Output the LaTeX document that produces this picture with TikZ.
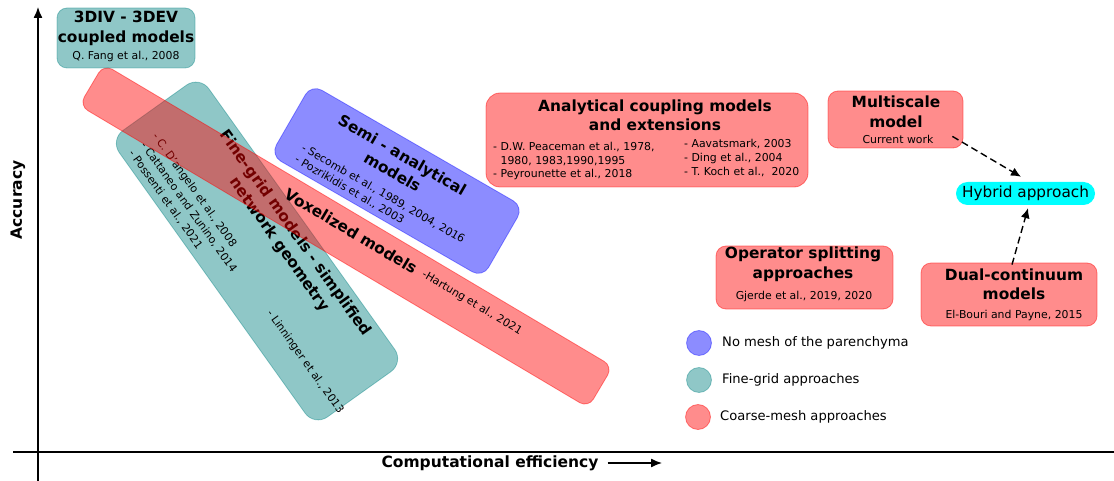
\documentclass[tikz,border=0pt]{standalone}
\usepackage{fontspec}
\setmainfont{DejaVu Sans}
\usepackage{tikz}
\usetikzlibrary{arrows.meta, positioning}

\definecolor{hybcyan}{RGB}{0,255,255}
\newcommand\boxtitle{\fontsize{15.4}{19.5}\selectfont\bfseries}
\newcommand\reftext{\fontsize{10.9}{13.5}\selectfont}

\begin{document}
\begin{tikzpicture}[
    x=1pt, y=-1pt,
    coarse/.style={rectangle, rounded corners=10pt, fill=red, fill opacity=0.45,
      draw=red, draw opacity=0.45, line width=0.8pt, text opacity=1, inner sep=0pt},
    finegrid/.style={rectangle, rounded corners=10pt, fill=teal, fill opacity=0.44,
      draw=teal, draw opacity=0.4, line width=0.8pt, text opacity=1, inner sep=0pt},
    nomesh/.style={rectangle, rounded corners=10pt, fill=blue, fill opacity=0.45,
      draw=blue, draw opacity=0.4, line width=0.8pt, text opacity=1, inner sep=0pt},
    ttl/.style={font=\boxtitle, align=center, inner sep=0pt},
    refs/.style={font=\reftext, align=left, inner sep=0pt},
    axisline/.style={line width=1.3pt},
    axlabel/.style={font=\fontsize{15.5}{18}\selectfont\bfseries, inner sep=0pt},
    tip/.style={-{Latex[length=11pt,width=9pt]}},
    toward/.style={-{Latex[length=10pt,width=9pt]}, line width=1.4pt, dash pattern=on 7pt off 4pt},
    legdot/.style={circle, minimum size=25pt},
    legtext/.style={font=\fontsize{13.1}{15}\selectfont, anchor=west, inner sep=0pt}
  ]
  \useasboundingbox (0,0) rectangle (1114,481);

  % axes
  \coordinate (ybot) at (38,481);
  \coordinate (ytop) at (38,7);
  \coordinate (xleft) at (13,452);
  \coordinate (xright) at (1114,452);
  \draw[axisline, tip] (ybot) -- (ytop);
  \draw[axisline] (xleft) -- (xright);
  \node[axlabel, rotate=90] (acc) at (18,200) {Accuracy};
  \node[axlabel] (eff) at (490,463) {Computational efficiency};
  \coordinate (effend) at (662,463);
  \draw[axisline, tip] ([xshift=9pt]eff.east) -- (effend);

  % fine-grid, network geometry
  \node[finegrid, minimum width=352pt, minimum height=110pt, rounded corners=16pt, rotate=-54.5] (fine) at (257,251) {};
  \node[ttl, rotate=-54.5] (fineT) at (287,239) {Fine-grid models - simplified\\network geometry};
  \node[refs, rotate=-54.5, anchor=west, font=\fontsize{10.9}{14.5}\selectfont] (fineR) at (143,143)
    {- C. D'angelo et al., 2008\\- Cattaneo and Zunino, 2014\\- Possenti et al., 2021};
  \node[refs, rotate=-54.5] (fineL) at (305,362) {- Linninger et al., 2013};

  % semi-analytical
  \node[nomesh, minimum width=245pt, minimum height=82pt, rounded corners=12pt, rotate=-30] (semi) at (397,181) {};
  \node[ttl, rotate=-30] (semiT) at (397.5,163.5) {Semi - analytical\\models};
  \node[refs, rotate=-30, anchor=west] (semiR) at (299,153)
    {- Secomb et al., 1989, 2004, 2016\\- Pozrikidis et al., 2003};

  % voxelized
  \node[coarse, minimum width=592pt, minimum height=48pt, rotate=-30.7] (voxel) at (346,236) {};
  \node[ttl, rotate=-30.7] (voxelT) at (351,231) {Voxelized models};
  \node[refs, rotate=-30.7] (voxelR) at (472,303) {-Hartung et al., 2021};

  % 3DIV - 3DEV
  \node[finegrid, minimum width=138pt, minimum height=60pt] (fang) at (126,38) {};
  \node[ttl] (fangT) at (126,28.5) {3DIV - 3DEV\\coupled models};
  \node[refs] (fangR) at (126,56) {Q. Fang et al., 2008};

  % analytical coupling
  \node[coarse, minimum width=322pt, minimum height=94pt, rounded corners=14pt] (ana) at (647,140) {};
  \node[ttl] (anaT) at (655,115.5) {Analytical coupling models\\and extensions};
  \node[refs, anchor=west] (anaL) at (493,161)
    {- D.W. Peaceman et al., 1978,\\\phantom{- }1980, 1983,1990,1995\\- Peyrounette et al., 2018};
  \node[refs, anchor=west, font=\fontsize{10.9}{14}\selectfont] (anaR) at (684,158)
    {- Aavatsmark, 2003\\- Ding et al., 2004\\- T. Koch et al.,\ \ 2020};

  % multiscale
  \node[coarse, minimum width=135pt, minimum height=57pt] (multi) at (895.5,119.5) {};
  \node[ttl] (multiT) at (896,112) {Multiscale\\model};
  \node[refs] (multiR) at (898,139) {Current work};

  % hybrid
  \node[rectangle, rounded corners=11.5pt, fill=hybcyan, minimum width=139pt, minimum height=23pt,
    font=\fontsize{15.3}{18}\selectfont, inner sep=0pt] (hyb) at (1025.5,193.5) {Hybrid approach};

  % operator splitting
  \node[coarse, minimum width=177pt, minimum height=63pt] (oper) at (804.5,277.5) {};
  \node[ttl] (operT) at (803,264.5) {Operator splitting\\approaches};
  \node[refs] (operR) at (804,296) {Gjerde et al., 2019, 2020};

  % dual-continuum
  \node[coarse, minimum width=176pt, minimum height=63pt] (dual) at (1009,294.5) {};
  \node[ttl] (dualT) at (1014,284.5) {Dual-continuum\\models};
  \node[refs] (dualR) at (1014,315) {El-Bouri and Payne, 2015};

  \draw[toward] ([xshift=-11pt,yshift=12pt]multi.south east) -- ([xshift=-4.5pt,yshift=5pt]hyb.north);
  \draw[toward] ([xshift=3pt,yshift=-2pt]dual.north) -- ([xshift=2.5pt,yshift=-3pt]hyb.south);

  % legend
  \node[nomesh, legdot] (legA) at (699,343) {};
  \node[finegrid, legdot] (legB) at (699,380) {};
  \node[coarse, legdot] (legC) at (698,417) {};
  \node[legtext] (legAt) at (722,343) {No mesh of the parenchyma};
  \node[legtext] (legBt) at (722,380) {Fine-grid approaches};
  \node[legtext] (legCt) at (720,417) {Coarse-mesh approaches};
\end{tikzpicture}
\end{document}
